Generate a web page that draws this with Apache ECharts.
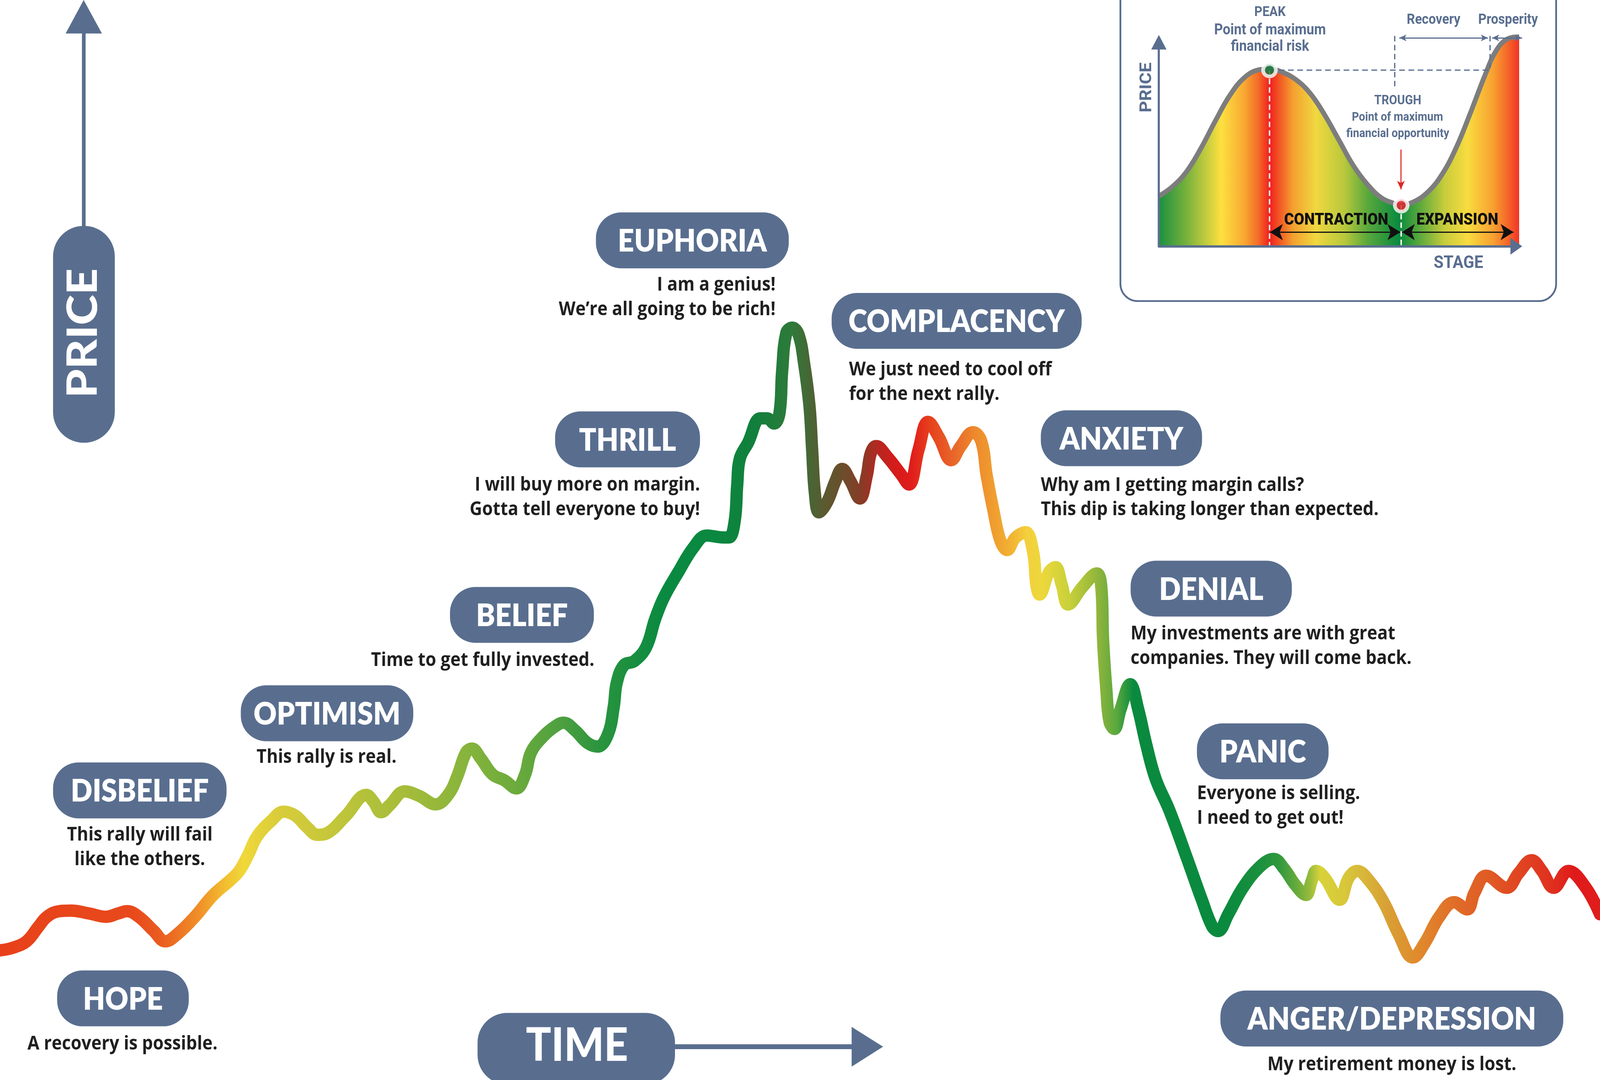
<!DOCTYPE html>
<html><head><meta charset="utf-8">
<script src="https://cdn.jsdelivr.net/npm/echarts@6/dist/echarts.min.js"></script>
<style>html,body{margin:0;padding:0;background:#fff;overflow:hidden}#c{position:absolute;left:0;top:0}</style>
</head><body><div id="c"></div>
<script>
// ---------- DATA ----------
// Main market-cycle curve: time (0..1568) and price level
const timeX = [0,11.6,26,37.6,46,58,69.5,87,104,116,124.5,136,150.5,162,173.7,191,208.5,226,234.5,243,252,266,278,289.5,301,311,321,339,359,366,373.5,382,396.6,411,427,439.4,448,456.7,462.5,471.2,482.8,494.4,506,514.6,520.4,532,543.6,552.3,563.9,575.4,585.6,595.7,601.5,604.4,611.6,621.8,633.3,642,650.7,665.2,679.7,692.7,708.6,714.4,720,722.5,725.1,733.1,745.2,751.8,758.5,763.9,766.5,770.6,776.4,782.6,787.9,793.3,795.9,798.6,802.6,810.6,818.7,825.3,833.4,842.7,849.4,853.4,858.7,869.4,882.8,890.8,900.2,909.5,920.2,932.2,941.6,953.6,961.6,967,973.6,980.3,987,995,1005,1012.5,1015.6,1018.7,1028,1034.3,1040.5,1046.8,1060.8,1074.8,1079.5,1081,1084.2,1087.3,1092,1098.2,1107.6,1115.4,1123.2,1132.5,1146.2,1163.5,1177.8,1187.9,1193.6,1203.7,1218,1235.3,1248.2,1258.3,1269.8,1279.8,1285.6,1289.9,1298.5,1312.9,1321.5,1330.1,1341.6,1356,1370.3,1384.7,1396.2,1410.6,1425,1437.8,1445,1456.5,1476.6,1488.1,1501,1511.1,1522.6,1537,1554.2,1568];
const price = [116,118,124,137,146,151,151.5,149,146,149,151,146,133.5,124,130.4,146,165,179,187,201,218,232,240,236.4,226,219.3,221,236.4,255,249,239.5,246,258.2,254,246.5,255.4,271.4,293,296.4,287.5,273.2,268,260.8,273.2,293,307,316,319.6,312.4,301.7,298.2,309,334,355.2,371.2,374.8,387.3,412.2,431.8,455,476.4,487,485.3,485.3,500,532.6,556,570,591.8,591.8,587.2,596.5,634,668.2,673,666.7,641.7,602.8,563.8,524.8,507.7,517,535.7,546.6,535.7,520.1,540.4,560.7,567,557.5,542,532.6,563.8,588.7,574.7,554.4,567,579.4,571.6,540.4,509.2,482.7,474,485,490,472,443,434.2,454.2,458.7,443,425.3,440.9,453.1,438.6,394.1,349.5,320.6,314,331.7,354,331.7,300.5,269.4,240.7,197.7,161.2,137.5,133.2,148.3,171.9,191.3,197.7,189.1,174.1,165.5,178.4,187,180.5,161.2,180.5,187,178.4,159,131.1,109.6,122.5,146.1,159,152.6,167.6,182.7,171.9,184.8,196.6,187,171.9,187,171.9,148.3];

// Inset business-cycle curve: stage and price
const stageX = [0,13.5,27.6,41.6,55.6,69.7,83.7,97.7,108.4,120.2,134.2,148.2,162.3,176.3,190.3,204.4,218.4,232.4,237.5,249.3,263.3,277.3,291.4,305.4,319.4,330.6,341.9,353.1,355.9];
const stagePrice = [44.8,53.5,67.4,88.3,112.6,135.2,150.8,157.8,158.6,156,149.1,136.9,117.8,95.2,72.6,55.3,43.1,37.9,37,39.6,48.3,64,88.3,119.5,152.6,175.1,185.6,187.3,186.4];
const peakPoint = [108.4, 157.6];
const troughPoint = [237.5, 36.7];

// Emotion stages and quotes
const stageNames = ['HOPE','DISBELIEF','OPTIMISM','BELIEF','THRILL','EUPHORIA','COMPLACENCY','ANXIETY','DENIAL','PANIC','ANGER/DEPRESSION'];
const stageQuotes = [
  ['A recovery is possible.'],
  ['This rally will fail','like the others.'],
  ['This rally is real.'],
  ['Time to get fully invested.'],
  ['I will buy more on margin.','Gotta tell everyone to buy!'],
  ['I am a genius!','We\u2019re all going to be rich!'],
  ['We just need to cool off','for the next rally.'],
  ['Why am I getting margin calls?','This dip is taking longer than expected.'],
  ['My investments are with great','companies. They will come back.'],
  ['Everyone is selling.','I need to get out!'],
  ['My retirement money is lost.']
];

// ---------- LAYOUT / STYLE ----------
const W = window.innerWidth || 4490, H = window.innerHeight || 2765;
const el = document.getElementById('c');
el.style.width = W + 'px'; el.style.height = H + 'px';
const SX = W/1568, SY = H/966;
const px = v => v*SX;
const py = v => v*SY;
const fx = SX/2.8635, fy = SY/2.8623;   // scale relative to the 4490x2765 design
const fr = fx/fy;                        // horizontal compensation for text
const fm = (fx+fy)/2;
const slate = '#596e8f';
const ink = '#1f1f1f';
// inset origin inside the main (full-canvas) grid
const INSET_X0 = 1135.7, INSET_Y0 = 966 - 220.3;
const toMain = c => [c[0] + INSET_X0, c[1] + INSET_Y0];

const pillLayout = [
  {box:[56,868,185,918],  qx:120,  qy:[934],      qa:'center'},
  {box:[52,682,222,732],  qx:137,  qy:[747,769],  qa:'center'},
  {box:[236,613,405,663], qx:320,  qy:[677.5],    qa:'center'},
  {box:[441,525,582,575], qx:582.5,qy:[591],      qa:'right'},
  {box:[544,368,686,418], qx:686,  qy:[434,456],  qa:'right'},
  {box:[584,190,773,240], qx:760,  qy:[255,277],  qa:'right'},
  {box:[815,262,1060,312],qx:832,  qy:[331,353],  qa:'left'},
  {box:[1020,367,1178,417],qx:1020,qy:[434.5,456],qa:'left'},
  {box:[1108,501.5,1266,551.5],qx:1108,qy:[567,589],qa:'left'},
  {box:[1173,647,1302,697],qx:1173,qy:[710,732],  qa:'left'},
  {box:[1196,886,1532,936],qx:1364,qy:[952.5],    qa:'center'}
];

const curveColors = [[0,'#e8401a'],[136,'#e84a1c'],[162,'#ea5c20'],[200,'#f09028'],[226,'#f2c030'],[243,'#f0d83a'],[278,'#d8cc3a'],[320,'#c8c83a'],[359,'#b4c23a'],[400,'#a6bc3a'],[460,'#86b43c'],[510,'#6aaa3c'],[550,'#4ea040'],[590,'#2a943e'],[650,'#0a8a40'],[700,'#0a8840'],[740,'#127f3c'],[776,'#2e7a3a'],[795,'#4a6434'],[805,'#585c30'],[825,'#6a4e2c'],[845,'#8a3a26'],[858,'#b02a22'],[878,'#d81a1a'],[892,'#e01c1c'],[910,'#e6401c'],[932,'#e8642a'],[955,'#ee8a2c'],[975,'#f0a030'],[990,'#f2b434'],[1005,'#f4d03c'],[1020,'#ecd83c'],[1046,'#c8d03a'],[1075,'#8cb43c'],[1092,'#5aa83e'],[1108,'#0a8a3e'],[1200,'#0a8a3e'],[1230,'#1a903e'],[1250,'#30983e'],[1268,'#6aac3c'],[1280,'#98bc3c'],[1290,'#d8d23a'],[1313,'#d8c83a'],[1330,'#d8b83a'],[1356,'#d8a034'],[1385,'#e08a2c'],[1425,'#e06a28'],[1456,'#e05a24'],[1476,'#e04a22'],[1501,'#e03a20'],[1522,'#e02a1e'],[1537,'#e01a1a'],[1568,'#e01e1e']];
const insetColors = [[0,'#1a9040'],[27.6,'#7ab23c'],[61.2,'#fde040'],[83.7,'#f8a832'],[97.7,'#f46a28'],[108.4,'#f02020'],[118.8,'#f25a24'],[131.4,'#f4a030'],[153.8,'#f0d840'],[181.9,'#b8c83c'],[204.4,'#5aa83c'],[235.2,'#0a8a3e'],[254.9,'#58a83c'],[280.1,'#c8cc3c'],[302.6,'#f8dc40'],[327.8,'#f8a030'],[344.7,'#f45a28'],[355.9,'#f02828']];

const chart = echarts.init(el, null, {renderer:'canvas', width:W, height:H});

const curveGrad = new echarts.graphic.LinearGradient(0,0,1,0, curveColors.map(c=>({offset:c[0]/1568, color:c[1]})));
const insetGrad = new echarts.graphic.LinearGradient(0,0,1,0, insetColors.map(c=>({offset:c[0]/355.9, color:c[1]})));

function txt(x, y, text, o) {
  const a = o.align || 'center';
  const rot = o.rotation || 0;
  return {type:'text', x:px(x), y:py(y), z:o.z||20, rotation:rot,
    scaleX: rot ? 1 : fr, scaleY: rot ? fr : 1, silent:true,
    style:{text:text, fill:o.fill||ink, fontSize:o.size*fy, fontFamily:o.family||'Lato', fontWeight:o.weight||'bold',
      align:a, textAlign:a, verticalAlign:'middle', textVerticalAlign:'middle'}};
}

const graphics = [];
// inset frame
graphics.push({type:'rect', z:0, silent:true, shape:{x:px(1098), y:-60, width:px(1525-1098), height:py(269.3)+60, r:px(17)}, style:{fill:'none', stroke:slate, lineWidth:5*fx}});

// stage pills + quotes
stageNames.forEach((name,i)=>{
  const L = pillLayout[i], b = L.box;
  const w = b[2]-b[0], h = b[3]-b[1];
  graphics.push({type:'rect', z:10, silent:true, shape:{x:px(b[0]), y:py(b[1]), width:px(w), height:py(h), r:Math.min(px(h), py(h))/2}, style:{fill:slate}});
  graphics.push(txt((b[0]+b[2])/2, (b[1]+b[3])/2 + 1, name, {fill:'#ffffff', size:80, weight:800}));
  stageQuotes[i].forEach((q,j)=>{
    graphics.push(txt(L.qx, L.qy[j], q, {align:L.qa, size:48.5, weight:'bold', family:'Open Sans', fill:ink}));
  });
});

// PRICE axis pill + arrow
graphics.push({type:'rect', z:10, silent:true, shape:{x:px(80.3), y:py(25), width:px(3.6), height:py(180)}, style:{fill:slate}});
graphics.push({type:'polygon', z:10, silent:true, shape:{points:[[px(64.3),py(30)],[px(99.9),py(30)],[px(82),0]]}, style:{fill:slate}});
graphics.push({type:'rect', z:10, silent:true, shape:{x:px(52), y:py(202), width:px(60.5), height:py(194), r:px(30)}, style:{fill:slate}});
graphics.push(txt(81.8, 298, 'PRICE', {fill:'#fff', size:118, weight:900, rotation:Math.PI/2}));

// TIME axis pill + arrow
graphics.push({type:'rect', z:10, silent:true, shape:{x:px(660), y:py(934), width:px(176), height:py(4.4)}, style:{fill:slate}});
graphics.push({type:'polygon', z:10, silent:true, shape:{points:[[px(834.6),py(918.5)],[px(834.6),py(954)],[px(865.4),py(936.2)]]}, style:{fill:slate}});
graphics.push({type:'rect', z:10, silent:true, shape:{x:px(468), y:py(906), width:px(193.5), height:py(64), r:px(29)}, style:{fill:slate}});
graphics.push(txt(565.5, 935.5, 'TIME', {fill:'#fff', size:118, weight:900}));

// inset texts
const R = 'Roboto';
graphics.push(txt(1124.3, 78.2, 'PRICE', {fill:slate, size:46, family:R, rotation:Math.PI/2}));
graphics.push(txt(1244.6, 11.3, 'PEAK', {fill:slate, size:35, family:R}));
graphics.push(txt(1244.6, 27.3, 'Point of maximum', {fill:slate, size:38, family:R}));
graphics.push(txt(1244.6, 42.2, 'financial risk', {fill:slate, size:38, family:R}));
graphics.push(txt(1404.9, 18.2, 'Recovery', {fill:slate, size:36, family:R}));
graphics.push(txt(1477.9, 18.2, 'Prosperity', {fill:slate, size:36, family:R}));
graphics.push(txt(1369.8, 90.3, 'TROUGH', {fill:slate, size:33, family:R}));
graphics.push(txt(1369.5, 105.1, 'Point of maximum', {fill:slate, size:31, family:R}));
graphics.push(txt(1369.8, 119.9, 'financial opportunity', {fill:slate, size:31, family:R}));
graphics.push(txt(1309.5, 197.2, 'CONTRACTION', {fill:'#111', size:42, family:R, weight:900}));
graphics.push(txt(1428.2, 197.2, 'EXPANSION', {fill:'#111', size:42, family:R, weight:900}));
graphics.push(txt(1429.3, 235.7, 'STAGE', {fill:slate, size:45, family:R}));

function ml(a, b, style, s1, s2, size) {
  const sz = size ? size.map(v=>v*fx) : 10;
  return [{coord:a, symbol:s1||'none', symbolSize:sz, lineStyle:style},
          {coord:b, symbol:s2||'none', symbolSize:sz}];
}
const whiteDash = {color:'#ffffff', width:4*fx, type:[14*fy,8*fy]};
const slateDash = {color:slate, width:3.5*fx, type:[16*fx,10*fx]};
const slateDashV = {color:slate, width:3.5*fx, type:[14*fy,9*fy]};
const slateSolid = {color:slate, width:3.5*fx, type:'solid'};
const blackSolid = {color:'#111', width:3.5*fx, type:'solid'};
const redSolid = {color:'#e02424', width:3*fx, type:'solid'};

// guide lines reaching above the inset's axis range, drawn in the full-canvas grid
const insetTopGuides = [
  ml(toMain([231, 188.2]), toMain([231, 143]), slateDashV),
  ml(toMain([324.5, 188.2]), toMain([324.5, 157.6]), slateDashV),
  ml(toMain([235.6, 186.4]), toMain([322.5, 186.4]), slateSolid, 'arrow', 'arrow', [14, 20]),
  ml(toMain([326.5, 186.4]), toMain([355.9, 186.4]), slateSolid, 'arrow', 'arrow', [14, 20])
];

const option = {
  animation:false,
  backgroundColor:'#ffffff',
  grid:[
    {left:0, top:0, width:W, height:H},
    {left:px(1135.7), top:py(37.8), width:px(350.3), height:py(182.5)}
  ],
  xAxis:[
    {gridIndex:0, type:'value', min:0, max:1568, show:false},
    {gridIndex:1, type:'value', min:0, max:350.3, z:5,
     axisLine:{show:true, onZero:false, symbol:['none','triangle'], symbolSize:[py(15), px(11.5)], lineStyle:{color:slate, width:6*fy}},
     axisTick:{show:false}, axisLabel:{show:false}, splitLine:{show:false}}
  ],
  yAxis:[
    {gridIndex:0, type:'value', min:0, max:966, show:false},
    {gridIndex:1, type:'value', min:0, max:182.5, z:5,
     axisLine:{show:true, onZero:false, symbol:['none','triangle'], symbolSize:[px(15), py(13)], lineStyle:{color:slate, width:6*fx}},
     axisTick:{show:false}, axisLabel:{show:false}, splitLine:{show:false}}
  ],
  series:[
    {type:'line', xAxisIndex:0, yAxisIndex:0, data:timeX.map((x,i)=>[x, price[i]]),
     smooth:0.4, symbol:'none', showSymbol:false, clip:false, silent:true, z:3,
     lineStyle:{width:33*fm, cap:'round', join:'round', color:curveGrad},
     markLine:{silent:true, symbol:['none','none'], label:{show:false}, animation:false, data:insetTopGuides}},
    {type:'line', xAxisIndex:1, yAxisIndex:1, data:stageX.map((x,i)=>[x, stagePrice[i]]),
     smooth:0.4, symbol:'none', showSymbol:false, clip:false, silent:true, z:2,
     lineStyle:{width:13*fm, color:'#7d7d7d'},
     areaStyle:{origin:'start', opacity:1, color:insetGrad},
     markLine:{silent:true, symbol:['none','none'], label:{show:false}, animation:false,
       data:[
         ml([peakPoint[0], peakPoint[1]], [peakPoint[0], 0], whiteDash),
         ml([troughPoint[0], troughPoint[1]], [troughPoint[0], 0], whiteDash),
         ml([peakPoint[0], 157.6], [324.5, 157.6], slateDash),
         ml([237.2, 86.5], [237.2, 50.9], redSolid, 'none', 'arrow', [16, 24]),
         ml([108.9, 12.7], [236.6, 12.7], blackSolid, 'arrow', 'arrow', [34, 36]),
         ml([238.2, 12.7], [347.5, 12.7], blackSolid, 'arrow', 'arrow', [34, 36])
       ]}},
    {type:'scatter', xAxisIndex:1, yAxisIndex:1, silent:true, z:6, symbolSize:34*fm,
     itemStyle:{borderColor:'#ffffff', borderWidth:10*fm},
     data:[{value:peakPoint, itemStyle:{color:'#17753a'}}, {value:troughPoint, itemStyle:{color:'#e02424'}}]}
  ],
  graphic:{elements:graphics}
};
chart.setOption(option);
</script>
</body></html>
